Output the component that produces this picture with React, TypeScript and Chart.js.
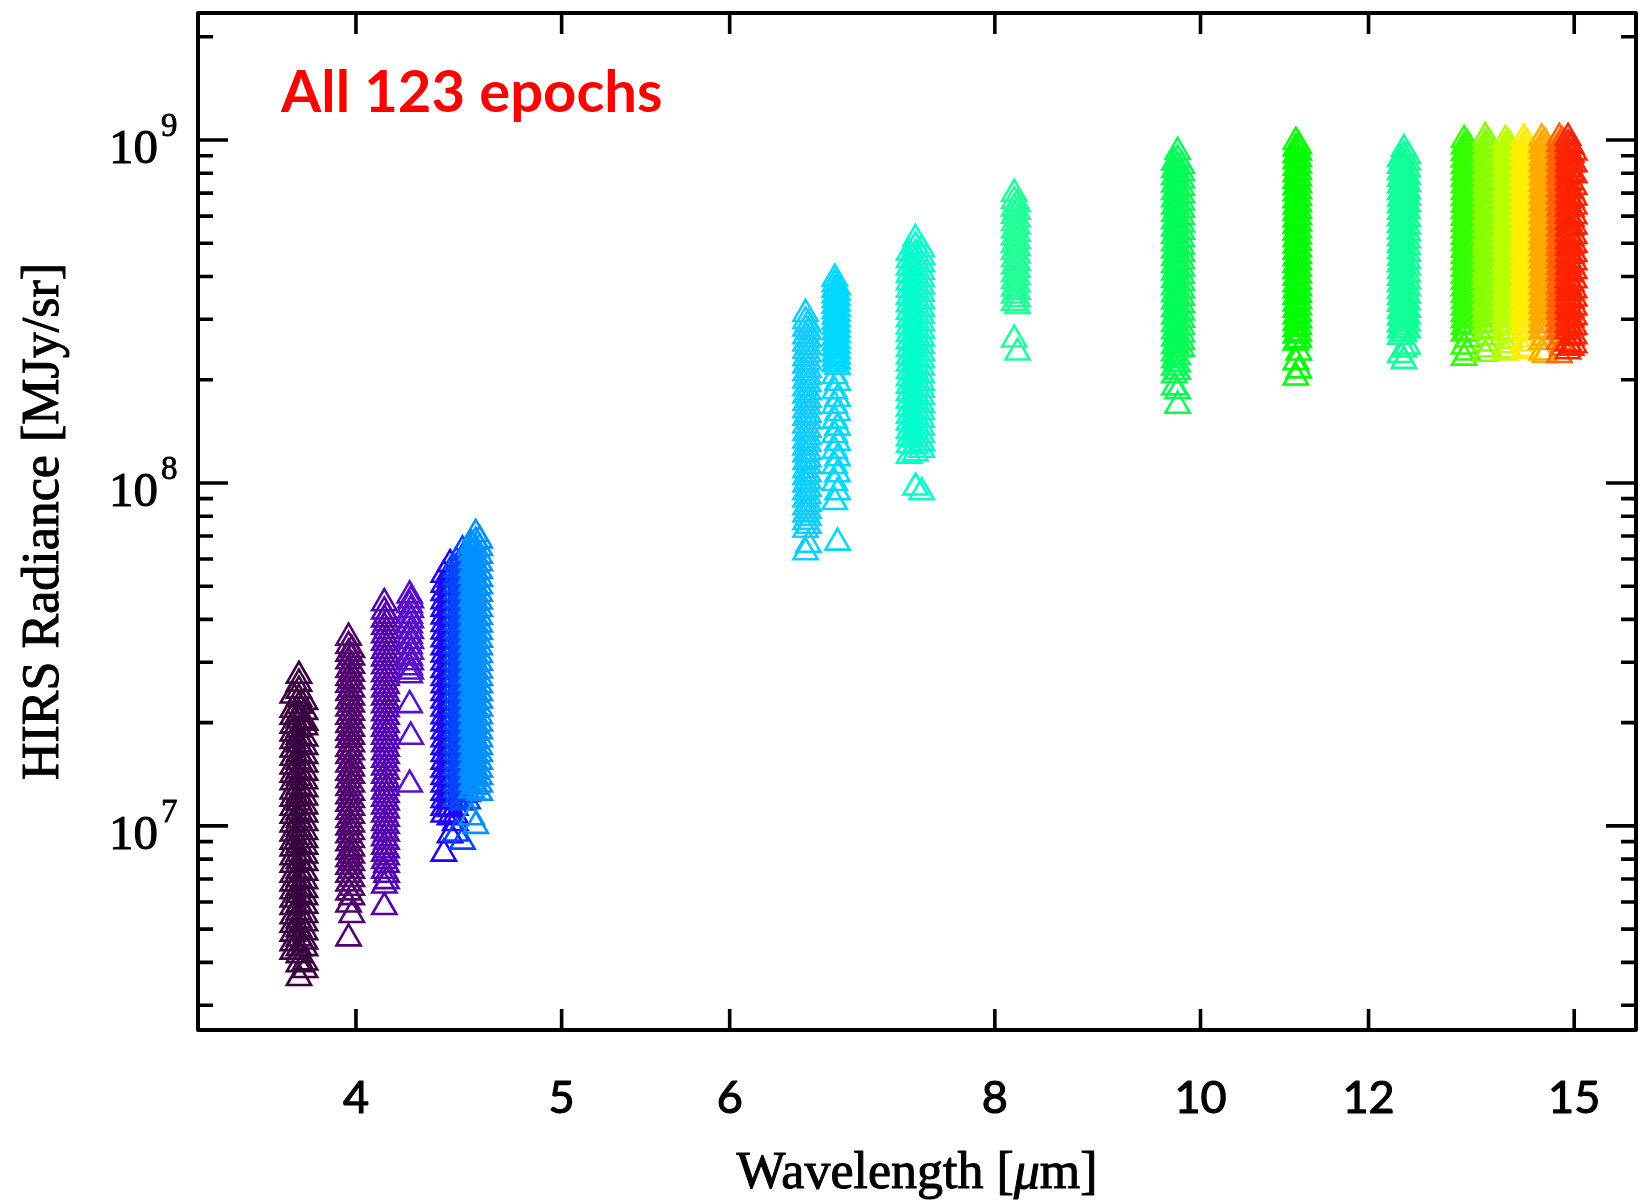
import React, { useEffect, useRef } from "react";
import { Chart, registerables } from "chart.js";
Chart.register(...registerables);

// ---------- axes ----------
const xTickValues = [4, 5, 6, 8, 10, 12, 15];
const yMajorTicks = [1e7, 1e8, 1e9];
const yMajorExponents = ["7", "8", "9"];
const yMinorTicks = [
  3e6, 4e6, 5e6, 6e6, 7e6, 8e6, 9e6,
  2e7, 3e7, 4e7, 5e7, 6e7, 7e7, 8e7, 9e7,
  2e8, 3e8, 4e8, 5e8, 6e8, 7e8, 8e8, 9e8,
  2e9,
];
const xRange = [3.37, 16.04];
const yRange = [2.54e6, 2.346e9];

// ---------- channels (drawn in this order: ch1 ... ch19) ----------
const channelNames = [
  "14.95", "14.71", "14.49", "14.22", "13.97", "13.64", "13.35", "12.47", "11.11", "9.71",
  "8.16", "7.33", "6.72", "6.52", "4.57", "4.52", "4.46", "4.24", "4.13", "3.98", "3.76",
];
const channelWavelengths = [
  [14.9, 14.95, 15.0],
  [14.76, 14.81],
  [14.48, 14.53],
  [14.2, 14.25],
  [13.92, 13.97],
  [13.62, 13.67],
  [13.31, 13.36],
  [12.42, 12.47, 12.52],
  [11.09, 11.125],
  [9.72, 9.755, 9.8],
  [8.17, 8.2],
  [7.29, 7.34, 7.39],
  [6.725, 6.745],
  [6.515, 6.535],
  [4.535, 4.555, 4.575],
  [4.46, 4.49, 4.515],
  [4.4, 4.43, 4.455],
  [4.24, 4.245],
  [4.125, 4.135],
  [3.968, 3.982],
  [3.735, 3.76, 3.785],
];
const channelColors = [
  "#ff2200", "#ff6600", "#ffaa00", "#ffee00", "#bbff00", "#88ff00", "#33ff00", "#11ff99",
  "#00ff00", "#00ff55", "#22ff99", "#00ffcc", "#00d8ff", "#10ccff", "#0090ff", "#0048ff",
  "#2200f0", "#5a10c8", "#5500b0", "#52006e", "#3a0040",
];

// radiance in units of 1e6 MJy/sr, one list per sub-wavelength
const r1495 = [
  [1015, 972, 931, 891, 853, 817, 783, 749, 718, 687, 658, 630, 603, 578, 553, 530, 507, 486, 465, 446, 427, 409, 391, 375, 359, 344, 329, 315, 302, 289, 277, 255, 242],
  [960, 905, 850, 800, 755, 710, 670, 630, 590, 555, 520, 490, 460, 432, 406, 382, 360, 340, 320, 300, 283, 265, 248],
  [920, 850, 790, 730, 680, 640, 600, 560, 525, 495, 465, 440, 415, 390, 365, 345, 325, 305, 285, 268, 252],
];
const r1471 = [
  [1015, 972, 931, 891, 853, 817, 783, 749, 718, 687, 658, 630, 603, 578, 553, 530, 507, 486, 465, 446, 427, 409, 391, 375, 359, 344, 329, 315, 302, 289, 277, 258, 236],
  [990, 948, 907, 869, 832, 797, 763, 730, 699, 670, 641, 614, 588, 563, 539, 516, 494, 473, 453, 434, 416, 398, 381, 365, 350, 335, 320, 307, 294, 281, 268, 248],
];
const r1449 = [
  [1010, 968, 927, 887, 850, 814, 779, 746, 714, 684, 655, 627, 601, 575, 551, 527, 505, 484, 463, 444, 425, 407, 390, 373, 357, 342, 328, 314, 300, 288, 276, 258, 240],
  [985, 943, 903, 865, 828, 793, 759, 727, 696, 667, 638, 611, 585, 561, 537, 514, 492, 471, 451, 432, 414, 396, 380, 364, 348, 333, 319, 306, 293, 280, 265, 236],
];
const r1422 = [
  [1010, 967, 926, 886, 849, 813, 778, 745, 714, 683, 654, 627, 600, 575, 550, 527, 505, 483, 463, 443, 425, 407, 389, 373, 357, 342, 327, 313, 300, 287, 275, 255, 242],
  [980, 938, 898, 860, 823, 788, 755, 723, 692, 663, 635, 608, 582, 557, 534, 511, 489, 469, 449, 430, 411, 394, 377, 361, 346, 331, 317, 304, 291, 278, 262, 246],
];
const r1397 = [
  [1000, 958, 917, 878, 841, 805, 771, 738, 707, 677, 648, 621, 595, 570, 546, 523, 501, 480, 460, 441, 422, 404, 387, 371, 355, 340, 326, 312, 299, 286, 274, 252, 240],
  [975, 933, 894, 856, 819, 784, 751, 719, 688, 659, 631, 604, 578, 554, 530, 508, 486, 466, 446, 427, 409, 392, 375, 359, 344, 329, 315, 302, 289, 277, 260, 244],
];
const r1364 = [
  [1020, 976, 934, 894, 856, 819, 784, 751, 719, 688, 659, 631, 604, 578, 553, 530, 507, 486, 465, 445, 426, 408, 391, 374, 358, 343, 328, 314, 301, 288, 276, 255, 238],
  [985, 943, 903, 864, 827, 792, 758, 726, 695, 665, 637, 610, 584, 559, 535, 512, 490, 469, 449, 430, 412, 394, 377, 361, 346, 331, 317, 304, 291, 279, 266, 245],
];
const r1335 = [
  [1000, 957, 916, 877, 840, 804, 770, 737, 706, 676, 647, 620, 594, 569, 545, 522, 500, 479, 459, 440, 421, 403, 386, 370, 354, 339, 325, 311, 298, 285, 273, 250, 232],
  [970, 928, 889, 851, 815, 780, 747, 715, 685, 656, 628, 601, 576, 551, 528, 506, 484, 464, 444, 425, 407, 390, 373, 357, 342, 328, 314, 301, 288, 276, 262, 240],
];
const r1247 = [
  [880, 842, 805, 770, 737, 705, 675, 646, 618, 591, 565, 541, 517, 495, 474, 453, 434, 415, 397, 380, 363, 348, 333, 318, 304, 291, 279, 267, 236],
  [941, 900, 861, 824, 788, 754, 721, 690, 660, 632, 604, 578, 553, 529, 506, 484, 463, 443, 424, 406, 388, 371, 355, 340, 325, 311, 298, 285, 272, 245, 227],
  [900, 860, 820, 780, 745, 710, 680, 650, 620, 590, 560, 535, 510, 488, 466, 445, 425, 406, 388, 370, 352, 336, 320, 306, 292, 279, 250],
];
const r1111 = [
  [987, 945, 905, 867, 830, 795, 761, 729, 698, 668, 640, 613, 587, 562, 538, 515, 493, 472, 452, 433, 415, 397, 380, 364, 349, 334, 320, 306, 293, 281, 269, 257, 225, 203],
  [960, 920, 880, 843, 807, 773, 740, 709, 679, 650, 622, 596, 571, 546, 523, 501, 480, 459, 440, 421, 403, 386, 370, 354, 339, 325, 311, 298, 285, 273, 261, 240, 213],
];
const r971 = [
  [860, 818, 779, 742, 706, 672, 640, 609, 580, 552, 526, 500, 476, 453, 432, 411, 391, 372, 355, 338, 321, 306, 291, 277, 264, 251, 239, 228, 217, 206, 190],
  [923, 878, 836, 796, 758, 722, 687, 654, 623, 593, 565, 538, 512, 487, 464, 442, 420, 400, 381, 363, 345, 329, 313, 298, 284, 270, 257, 245, 233, 222, 211, 185, 168],
  [840, 800, 762, 725, 690, 657, 626, 596, 567, 540, 514, 489, 466, 443, 422, 402, 383, 364, 347, 330, 314, 299, 285, 271, 258, 246],
];
const r816 = [
  [697, 664, 632, 602, 573, 546, 520, 495, 472, 449, 428, 407, 388, 369, 352, 335, 262],
  [650, 618, 588, 560, 533, 508, 484, 461, 439, 418, 398, 379, 361, 344, 328, 240],
];
const r733 = [
  [470, 447, 425, 405, 385, 366, 349, 332, 316, 300, 286, 272, 259, 246, 234, 223, 212, 202, 192, 183, 174, 165, 157, 150, 142, 135, 129, 120],
  [515, 490, 466, 444, 422, 402, 382, 364, 346, 329, 313, 298, 284, 270, 257, 244, 232, 221, 210, 200, 190, 181, 172, 164, 156, 148, 141, 134, 128, 122, 97],
  [480, 456, 434, 413, 393, 374, 356, 339, 322, 307, 292, 278, 264, 251, 239, 228, 217, 206, 196, 187, 178, 169, 161, 153, 145, 138, 131, 125, 94],
];
const r672 = [
  [394, 380, 366, 353, 341, 329, 317, 306, 295, 285, 275, 265, 256, 247, 238, 230, 222, 205, 185, 168, 152, 138, 124, 112, 100, 88],
  [372, 359, 346, 334, 322, 311, 300, 290, 280, 270, 260, 251, 242, 234, 226, 218, 196, 176, 160, 145, 131, 118, 106, 94, 67],
];
const r652 = [
  [311, 296, 282, 268, 255, 243, 231, 220, 209, 199, 189, 180, 171, 163, 155, 147, 140, 133, 127, 121, 115, 109, 104, 99, 94, 89.5, 85, 81, 77, 73, 62.8],
  [290, 276, 262, 249, 237, 225, 214, 204, 194, 184, 175, 167, 158, 151, 143, 136, 130, 123, 117, 112, 106, 101, 96, 91.5, 87, 83, 79, 75, 66],
];
const r457 = [
  [66, 62.7, 59.5, 56.5, 53.7, 51, 48.4, 46, 43.7, 41.5, 39.4, 37.4, 35.6, 33.8, 32.1, 30.5, 28.9, 27.5, 26.1, 24.8, 23.6, 22.4, 21.3, 20.2, 19.2, 18.2, 17.3, 16.4, 15.6, 14.8, 14.1, 13.4, 12.7, 10.6],
  [71, 67.4, 64, 60.8, 57.8, 54.9, 52.1, 49.5, 47, 44.7, 42.5, 40.3, 38.3, 36.4, 34.6, 32.8, 31.2, 29.6, 28.1, 26.7, 25.4, 24.1, 22.9, 21.8, 20.7, 19.6, 18.7, 17.7, 16.8, 16, 15.2, 14.4, 13.7, 13, 10],
  [68, 64.6, 61.4, 58.3, 55.4, 52.6, 50, 47.5, 45.1, 42.9, 40.7, 38.7, 36.8, 34.9, 33.2, 31.5, 29.9, 28.4, 27, 25.7, 24.4, 23.2, 22, 20.9, 19.9, 18.9, 17.9, 17, 16.2, 15.4, 14.6, 13.9, 13.2, 12.5],
];
const r452 = [
  [59, 56, 53.2, 50.5, 48, 45.6, 43.3, 41.1, 39.1, 37.1, 35.3, 33.5, 31.8, 30.2, 28.7, 27.3, 25.9, 24.6, 23.4, 22.2, 21.1, 20.1, 19.1, 18.1, 17.2, 16.4, 15.5, 14.8, 14, 13.3, 12.7, 12, 9.5],
  [63.6, 60.4, 57.4, 54.5, 51.8, 49.2, 46.7, 44.4, 42.2, 40.1, 38.1, 36.2, 34.4, 32.6, 31, 29.5, 28, 26.6, 25.3, 24, 22.8, 21.7, 20.6, 19.6, 18.6, 17.7, 16.8, 15.9, 15.1, 14.4, 13.7, 13, 12.3, 11.7, 9.0],
  [61, 58, 55, 52.3, 49.7, 47.2, 44.8, 42.6, 40.5, 38.5, 36.5, 34.7, 33, 31.3, 29.8, 28.3, 26.9, 25.5, 24.2, 23, 21.9, 20.8, 19.7, 18.8, 17.8, 16.9, 16.1, 15.3, 14.5, 13.8, 13.1, 12.4, 11.8],
];
const r446 = [
  [54, 50.5, 47.8, 45.2, 43, 40.8, 38.8, 36.9, 35, 33.2, 31.6, 30, 28.5, 27, 25.7, 24.4, 23.2, 22, 20.9, 19.9, 18.9, 17.9, 17, 16.2, 15.4, 14.6, 13.9, 13.2, 12.5, 11.9, 11.3, 10.8, 8.3],
  [58, 55, 52.3, 49.7, 47.2, 44.8, 42.6, 40.5, 38.4, 36.5, 34.7, 33, 31.3, 29.7, 28.2, 26.8, 25.5, 24.2, 23, 21.8, 20.7, 19.7, 18.7, 17.8, 16.9, 16, 15.2, 14.5, 13.7, 13, 12.4, 11.8, 11.2, 10.6, 9.4],
  [56, 53, 50, 47.5, 45.1, 42.8, 40.7, 38.6, 36.7, 34.9, 33.1, 31.5, 29.9, 28.4, 27, 25.6, 24.3, 23.1, 22, 20.9, 19.8, 18.8, 17.9, 17, 16.1, 15.3, 14.6, 13.8, 13.1, 12.5, 11.9, 11.3, 10.7, 10.2],
];
const r424 = [
  [47, 44, 41, 38.5, 35.8, 33.4, 31, 29, 27.5, 22.5, 13.2],
  [45.5, 42.6, 39.8, 37, 34.6, 32.2, 30, 28.2, 18.2],
];
const r413 = [
  [44.6, 42.2, 40, 38, 36, 34.2, 32.4, 30.8, 29.2, 27.7, 26.3, 25, 23.7, 22.5, 21.3, 20.2, 19.2, 18.2, 17.3, 16.4, 15.6, 14.8, 14, 13.3, 12.6, 12, 11.4, 10.8, 10.2, 9.7, 9.2, 8.7, 8.3, 7.9, 7.4, 6.7, 5.8],
  [41, 39, 37, 35, 33.3, 31.6, 30, 28.4, 27, 25.6, 24.3, 23.1, 21.9, 20.8, 19.7, 18.7, 17.7, 16.8, 16, 15.2, 14.4, 13.6, 12.9, 12.3, 11.7, 11.1, 10.5, 10, 9.5, 9, 8.5, 8.1, 7.7, 7.2, 6.9],
];
const r398 = [
  [35.4, 33.5, 31.8, 30.2, 28.5, 27, 25.8, 24.4, 23.1, 22, 20.8, 19.7, 18.7, 17.8, 16.8, 16, 15.1, 14.3, 13.6, 12.9, 12.2, 11.6, 11, 10.4, 9.9, 9.4, 8.9, 8.4, 8, 7.6, 7.2, 6.8, 6.4, 5.9, 4.7],
  [32.6, 31, 29.3, 27.8, 26.4, 25, 23.7, 22.6, 21.4, 20.3, 19.2, 18.2, 17.3, 16.4, 15.5, 14.7, 14, 13.2, 12.5, 11.9, 11.3, 10.7, 10.1, 9.6, 9.1, 8.6, 8.2, 7.8, 7.4, 7, 6.6, 6.2, 5.5],
];
const r376 = [
  [24, 21.8, 20.8, 19.6, 18.6, 17.7, 16.7, 15.8, 14.9, 14.1, 13.4, 12.6, 12, 11.3, 10.7, 10.1, 9.5, 9, 8.6, 8.1, 7.7, 7.2, 6.8, 6.45, 6.1, 5.8, 5.45, 5.15, 4.85, 4.55, 4.3],
  [27.4, 26, 24.8, 23.5, 22.4, 21.2, 20.3, 19.1, 18.2, 17.3, 16.2, 15.4, 14.5, 13.8, 13, 12.3, 11.7, 11, 10.4, 9.8, 9.3, 8.8, 8.3, 7.9, 7.4, 7, 6.6, 6.3, 5.9, 5.6, 5.3, 5, 4.7, 4.4, 4.2, 3.95, 3.6],
  [23, 21.5, 20, 19.4, 18, 17, 16, 15.1, 14.3, 13.5, 12.8, 12.1, 11.4, 10.8, 10.2, 9.6, 9.1, 8.7, 8.2, 7.8, 7.3, 6.9, 6.5, 6.2, 5.85, 5.5, 5.2, 4.9, 4.6, 4.4, 4, 3.8],
];
const channelRadiance = [
  r1495, r1471, r1449, r1422, r1397, r1364, r1335, r1247, r1111, r971,
  r816, r733, r672, r652, r457, r452, r446, r424, r413, r398, r376,
];

const SERIF = '"Liberation Serif", "Times New Roman", serif';

function heavyText(ctx: CanvasRenderingContext2D, t: string, x: number, y: number, w: number) {
  ctx.fillText(t, x, y);
  ctx.lineWidth = w;
  ctx.strokeText(t, x, y);
}

const framePlugin = {
  id: "idlFrame",
  afterDraw(chart: any) {
    const { ctx, chartArea: a, scales } = chart;
    const xs = scales.x;
    const ys = scales.y;
    ctx.save();
    ctx.strokeStyle = "#000";
    ctx.fillStyle = "#000";
    ctx.lineWidth = 4;
    ctx.lineJoin = "round";
    ctx.strokeRect(a.left, a.top, a.right - a.left, a.bottom - a.top);

    ctx.lineWidth = 3.6;
    ctx.lineCap = "butt";
    ctx.beginPath();
    for (const v of xTickValues) {
      const px = xs.getPixelForValue(v);
      ctx.moveTo(px, a.bottom);
      ctx.lineTo(px, a.bottom - 21);
      ctx.moveTo(px, a.top);
      ctx.lineTo(px, a.top + 21);
    }
    for (const v of yMajorTicks) {
      const py = ys.getPixelForValue(v);
      ctx.moveTo(a.left, py);
      ctx.lineTo(a.left + 30, py);
      ctx.moveTo(a.right, py);
      ctx.lineTo(a.right - 30, py);
    }
    for (const v of yMinorTicks) {
      const py = ys.getPixelForValue(v);
      ctx.moveTo(a.left, py);
      ctx.lineTo(a.left + 15, py);
      ctx.moveTo(a.right, py);
      ctx.lineTo(a.right - 15, py);
    }
    ctx.stroke();
    ctx.lineJoin = "round";

    // x tick labels
    ctx.font = '45px Lato, "Noto Sans", sans-serif';
    ctx.textAlign = "center";
    ctx.textBaseline = "alphabetic";
    for (const v of xTickValues) {
      const px = xs.getPixelForValue(v);
      heavyText(ctx, String(v), px, a.bottom + 83, 1.2);
    }

    // y tick labels 10^n
    yMajorTicks.forEach((v, i) => {
      const py = ys.getPixelForValue(v);
      ctx.font = `49px ${SERIF}`;
      ctx.textAlign = "right";
      heavyText(ctx, "10", 158, py + 23, 1);
      ctx.font = `33px ${SERIF}`;
      ctx.textAlign = "left";
      heavyText(ctx, yMajorExponents[i], 161, py - 4, 0.8);
    });

    // y title
    ctx.save();
    ctx.translate(44, (a.top + a.bottom) / 2);
    ctx.rotate(-Math.PI / 2);
    ctx.font = `52px ${SERIF}`;
    ctx.textAlign = "center";
    ctx.textBaseline = "middle";
    heavyText(ctx, "HIRS Radiance [MJy/sr]", 0, 0, 1);
    ctx.restore();

    // x title with italic mu
    const parts = [
      { t: "Wavelength [", f: `52px ${SERIF}` },
      { t: "\u03bc", f: `italic 52px ${SERIF}` },
      { t: "m]", f: `52px ${SERIF}` },
    ];
    let total = 0;
    for (const p of parts) {
      ctx.font = p.f;
      total += ctx.measureText(p.t).width;
    }
    let x0 = (a.left + a.right) / 2 - total / 2;
    ctx.textAlign = "left";
    ctx.textBaseline = "alphabetic";
    for (const p of parts) {
      ctx.font = p.f;
      heavyText(ctx, p.t, x0, 1188, 1);
      x0 += ctx.measureText(p.t).width;
    }

    // annotation
    ctx.fillStyle = "#ff0000";
    ctx.font = 'bold 58px Lato, "Noto Sans", sans-serif';
    ctx.textAlign = "left";
    ctx.fillText("All 123 epochs", 281, 112);
    ctx.restore();
  },
};

export default function App() {
  const ref = useRef<HTMLCanvasElement | null>(null);
  useEffect(() => {
    if (!ref.current) return;
    const datasets = channelRadiance.map((rad, c) => ({
      label: channelNames[c] + " \u03bcm",
      data: rad.flatMap((list, j) =>
        list.map((v) => ({ x: channelWavelengths[c][j], y: v * 1e6 }))
      ),
      borderColor: channelColors[c],
      backgroundColor: "rgba(0,0,0,0)",
      pointStyle: "triangle",
      pointRadius: 14,
      borderWidth: 2.6,
      showLine: false,
    }));
    const chart = new Chart(ref.current, {
      type: "scatter",
      data: { datasets },
      options: {
        animation: false,
        responsive: false,
        maintainAspectRatio: false,
        events: [],
        layout: { autoPadding: false, padding: { left: 198, top: 13, right: 7, bottom: 174 } },
        plugins: { legend: { display: false }, tooltip: { enabled: false } },
        scales: {
          x: { type: "logarithmic", min: xRange[0], max: xRange[1], display: false },
          y: { type: "logarithmic", min: yRange[0], max: yRange[1], display: false },
        },
      },
      plugins: [framePlugin],
    } as any);
    return () => chart.destroy();
  }, []);
  return (
    <div style={{ position: "absolute", left: 0, top: 0, width: 1643, height: 1204, background: "#fff" }}>
      <canvas ref={ref} width={1643} height={1204} style={{ width: 1643, height: 1204 }} />
    </div>
  );
}
